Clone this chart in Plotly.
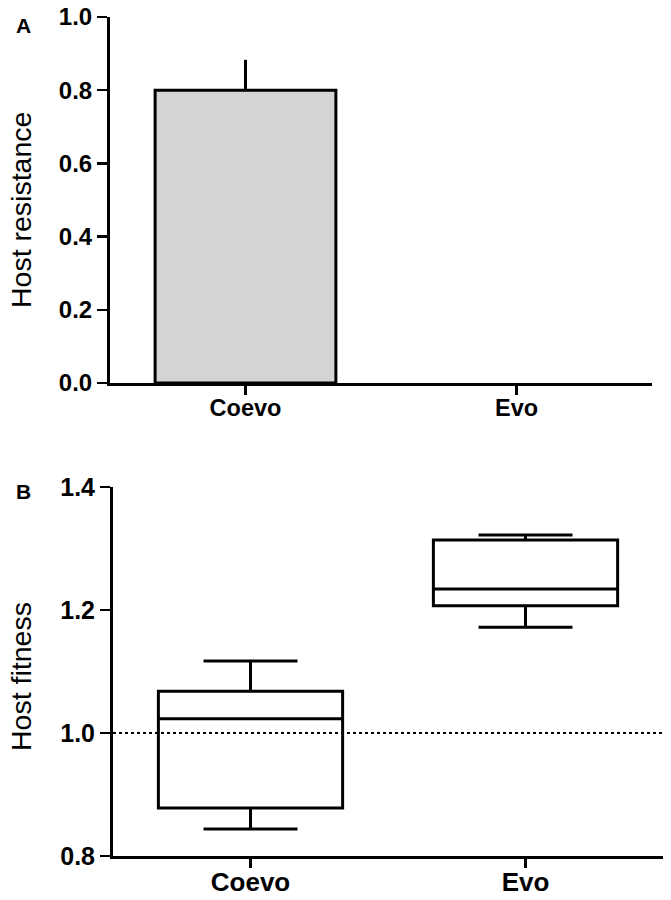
import plotly.graph_objects as go

# ---- data ----
categories = ["Coevo", "Evo"]
resistance = [0.80, 0.0]
resistance_err = [0.083, 0.0]

fit_lower = [0.844, 1.172]
fit_q1 = [0.878, 1.207]
fit_median = [1.023, 1.234]
fit_q3 = [1.068, 1.314]
fit_upper = [1.117, 1.322]

top_yticks = [0.0, 0.2, 0.4, 0.6, 0.8, 1.0]
bot_yticks = [0.8, 1.0, 1.2, 1.4]

W, H = 671, 900
FONT = "Liberation Sans, Arial, sans-serif"

def px_x(p):
    return p / W

def px_y(p):
    return (H - p) / H

fig = go.Figure()

fig.add_trace(go.Bar(
    x=categories, y=resistance, width=0.667,
    marker=dict(color="#d4d4d4", line=dict(color="black", width=[3, 0])),
    error_y=dict(type="data", symmetric=False, array=resistance_err,
                 arrayminus=[0, 0], color="black", thickness=3, width=0),
    xaxis="x", yaxis="y", showlegend=False, hoverinfo="skip",
))

fig.add_trace(go.Box(
    x=categories, q1=fit_q1, median=fit_median, q3=fit_q3,
    lowerfence=fit_lower, upperfence=fit_upper,
    width=0.67, whiskerwidth=0.51,
    line=dict(color="black", width=3), fillcolor="rgba(0,0,0,0)",
    boxpoints=False, xaxis="x2", yaxis="y2", showlegend=False,
))

axis_common = dict(
    showline=True, linecolor="black", linewidth=3,
    ticks="outside", tickcolor="black", tickwidth=2.5,
    showgrid=False, zeroline=False, fixedrange=True, automargin=False,
)

fig.update_layout(
    template="none",
    width=W, height=H, autosize=False,
    margin=dict(l=0, r=0, t=0, b=0, pad=0, autoexpand=False),
    paper_bgcolor="white", plot_bgcolor="white",
    showlegend=False,
    font=dict(family=FONT, color="black"),
    xaxis=dict(axis_common, domain=[px_x(110), px_x(652)], anchor="y",
               range=[-0.5, 1.5], ticklen=9, ticklabelstandoff=-7,
               tickfont=dict(family=FONT, size=23.5, weight="bold")),
    yaxis=dict(axis_common, domain=[px_y(383), px_y(17)], anchor="x",
               range=[0, 1.0], tickvals=top_yticks, tickformat=".1f",
               ticklen=10,
               tickfont=dict(family=FONT, size=24, weight="bold")),
    xaxis2=dict(axis_common, domain=[px_x(113), px_x(663)], anchor="y2",
                range=[-0.5, 1.5], ticklen=9, ticklabelstandoff=-8,
                tickfont=dict(family=FONT, size=26, weight="bold")),
    yaxis2=dict(axis_common, domain=[px_y(856), px_y(487)], anchor="x2",
                range=[0.8, 1.4], tickvals=bot_yticks, tickformat=".1f",
                ticklen=10,
                tickfont=dict(family=FONT, size=25, weight="bold")),
    shapes=[dict(type="line", xref="x2 domain", yref="y2",
                 x0=0, x1=1, y0=1.0, y1=1.0, layer="below",
                 line=dict(color="black", width=2, dash="dot"))],
    annotations=[
        dict(text="Host resistance", x=px_x(21), y=px_y(210), xref="paper", yref="paper",
             textangle=-90, showarrow=False, xanchor="center", yanchor="middle",
             font=dict(family=FONT, size=28.5)),
        dict(text="Host fitness", x=px_x(21), y=px_y(677), xref="paper", yref="paper",
             textangle=-90, showarrow=False, xanchor="center", yanchor="middle",
             font=dict(family=FONT, size=28.5)),
        dict(text="A", x=px_x(23), y=px_y(26), xref="paper", yref="paper",
             showarrow=False, xanchor="center", yanchor="middle",
             font=dict(family=FONT, size=21, weight="bold")),
        dict(text="B", x=px_x(23), y=px_y(492), xref="paper", yref="paper",
             showarrow=False, xanchor="center", yanchor="middle",
             font=dict(family=FONT, size=21, weight="bold")),
    ],
)

fig.write_html(
    "out.html",
    config={"displayModeBar": False, "staticPlot": True},
    post_script="document.body.style.margin='0';document.body.style.overflow='hidden';",
)
